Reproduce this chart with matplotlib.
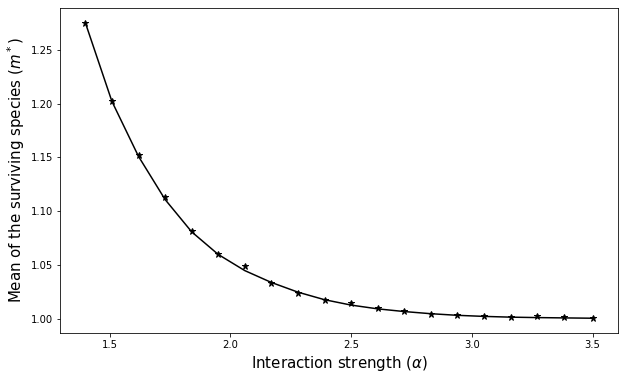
import numpy as np
import matplotlib
matplotlib.use('Agg')
import matplotlib.pyplot as plt

# interaction strength values
alpha = [1.4, 1.51, 1.62, 1.73, 1.84, 1.95, 2.06, 2.17, 2.28, 2.39,
         2.5, 2.61, 2.72, 2.83, 2.94, 3.05, 3.16, 3.27, 3.38, 3.5]

# theory curve
m_theory = [1.275, 1.202, 1.151, 1.111, 1.081, 1.060, 1.045, 1.034, 1.025, 1.018,
            1.013, 1.0095, 1.007, 1.005, 1.0035, 1.0025, 1.0018, 1.0014, 1.0011, 1.0008]

# simulation points
m_sim = [1.275, 1.2025, 1.152, 1.113, 1.082, 1.0606, 1.049, 1.0336, 1.024, 1.0177,
         1.0149, 1.0103, 1.0075, 1.0047, 1.0037, 1.0028, 1.0019, 1.0028, 1.0019, 1.001]

fig = plt.figure(figsize=(624/72, 380/72), dpi=72)
ax = fig.add_axes([60/624, 1 - 333/380, 558/624, 325/380])
ax.plot(alpha, m_theory, color='black', linewidth=1.5)
ax.plot(alpha, m_sim, linestyle='none', marker='*', color='black', markersize=7)
ax.set_xlabel(r'Interaction strength ($\alpha$)', fontsize=15)
ax.set_ylabel(r'Mean of the surviving species ($m^*$)', fontsize=15)
ax.set_xticks([1.5, 2.0, 2.5, 3.0, 3.5])
ax.set_yticks([1.00, 1.05, 1.10, 1.15, 1.20, 1.25])

plt.savefig('out.png', dpi=72)
